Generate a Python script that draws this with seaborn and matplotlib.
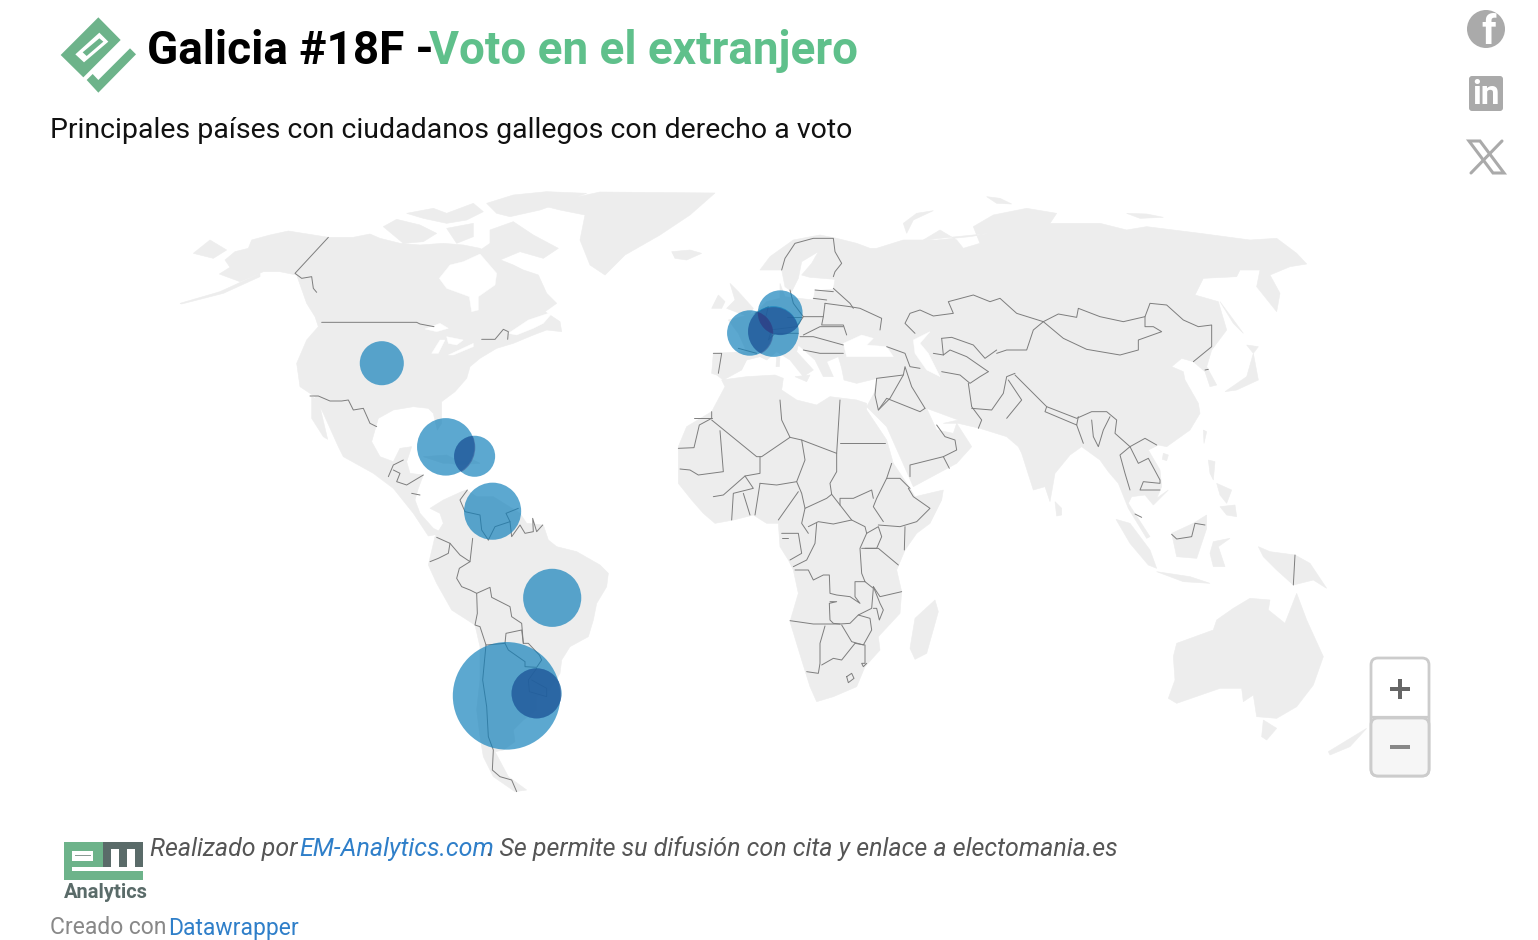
import numpy as np
import pandas as pd
import seaborn as sns
import matplotlib
matplotlib.use("Agg")
import matplotlib.pyplot as plt
from matplotlib.patches import Polygon, Ellipse, Rectangle, FancyBboxPatch, Circle

# ---------- data (map position, voters)
countries = ["Argentina", "Uruguay", "Brasil", "Venezuela", "Cuba", "Rep. Dominicana",
             "Estados Unidos", "Francia", "Suiza", "Alemania"]
map_lon = [-64.6, -57.1, -53.2, -68.1, -79.8, -72.6, -95.8, -3.8, 2.1, 3.8]
map_lat = [-33.1, -32.6, -13.3, 4.2, 17.2, 15.3, 34.1, 40.2, 40.5, 44.3]
voters = [158600, 34400, 46300, 44700, 45300, 23100, 26600, 28300, 35200, 27400]
overlaps = [("Argentina", "Uruguay"), ("Cuba", "Rep. Dominicana"), ("Francia", "Suiza"),
            ("Francia", "Alemania"), ("Suiza", "Alemania")]

title_a = "Galicia #18F - "
title_b = "Voto en el extranjero"
subtitle = "Principales países con ciudadanos gallegos con derecho a voto"
note_a = "Realizado por "
note_b = "EM-Analytics.com"
note_c = ". Se permite su difusión con cita y enlace a electomania.es"
credit_a = "Creado con "
credit_b = "Datawrapper"

# ---------- base map outlines: (origin x, origin y, scale, points)
A, S, E, F, O, P = (180, 180, 3), (380, 480, 3), (670, 220, 3), (670, 400, 3), (900, 190, 3), (1050, 440, 3)
R = (0, 0, 1)

land = [
 [(A, [(118,282),(150,262),(135,240),(165,215),(205,205),(215,180),(270,165),(325,153),(445,172),(520,172),(570,162),(600,175),(660,190),(720,195),(790,190),(850,195),(900,205),(950,235),(1000,255),(1030,270),(1075,285),(1100,340),(1130,370),(1095,395),(1140,425),(1145,455),(1100,450),(1060,465),(1000,490),(950,505),(900,535),(870,560),(860,595),(825,635),(785,665),(785,730),(772,750),(760,700),(745,685),(700,680),(640,690),(595,715),(575,785),(600,830),(640,845),(660,805),(695,800),(680,845),(690,880),(730,885),(715,925),(705,960),(720,1000),(760,1045),(790,1060),(745,1068),(700,1000),(640,925),(580,880),(490,830),(475,800),(430,700),(405,650),(360,620),(350,550),(380,480),(415,440),(405,410),(380,370),(350,285),(300,275),(250,275),(180,305)])],
 [(A, [(395,650),(415,660),(443,778),(430,770),(395,715)])],
 [(A, [(610,140),(650,118),(720,135),(770,160),(730,185),(670,190),(640,165)])],
 [(A, [(920,70),(1000,45),(1100,35),(1220,40),(1150,65),(1080,90),(990,110),(950,100)])],
 [(A, [(680,100),(760,85),(800,100),(880,70),(910,95),(860,120),(800,130),(730,115)])],
 [(A, [(880,225),(930,190),(930,150),(1000,125),(1060,165),(1135,205),(1090,235),(1020,215),(960,240)])],
 [(A, [(800,145),(880,130),(880,170),(830,190)])],
 [(A, [(40,220),(90,180),(140,210),(100,235)])],
 [(A, [(0,370),(120,335),(240,280),(240,290),(130,340),(5,372)])],
 [(R, [(540,205),(600,192),(715,193),(690,215),(660,235),(625,255),(605,275),(590,265),(580,240),(585,215),(560,210)])],
 [(A, [(730,830),(800,825),(850,850),(790,850)])],
 [(A, [(800,845),(880,840),(900,850),(830,855)])],
 [(S, [(190,60),(245,35),(260,30),(290,50),(340,50),(420,100),(440,130),(490,135),(505,180),(530,200),(590,215),(660,255),(685,280),(680,320),(650,370),(640,420),(625,470),(570,500),(545,540),(540,580),(510,630),(470,650),(470,690),(430,720),(400,750),(405,785),(370,810),(345,815),(385,890),(440,930),(405,935),(340,890),(310,830),(300,770),(290,690),(300,600),(300,500),(285,435),(215,390),(170,310),(145,255),(165,170),(190,130),(180,100),(150,85)])],
 [(F, [(155,-60),(230,-70),(315,-75),(340,-65),(335,-30),(380,0),(440,15),(480,-10),(560,0),(590,10),(590,30),(650,120),(670,190),(720,265),(735,290),(820,270),(815,300),(780,370),(740,400),(705,450),(680,510),(695,575),(690,640),(625,710),(630,750),(585,800),(560,860),(490,890),(440,905),(420,860),(395,780),(360,665),(385,580),(370,510),(355,480),(330,440),(325,370),(290,370),(250,345),(190,360),(135,370),(100,340),(65,300),(25,250),(25,140),(50,80),(125,35),(165,-40)])],
 [(F, [(795,600),(805,635),(770,760),(735,778),(720,745),(735,655)])],
 [(E, [(125,460),(130,400),(230,395),(205,340),(175,300),(255,280),(290,245),(330,235),(330,190),(345,230),(430,240),(435,212),(490,208),(495,178),(420,172),(395,165),(425,130),(445,95),(395,125),(385,175),(365,215),(345,200),(335,150),(270,150),(300,110),(370,60),(450,45),(500,55),(560,70),(600,85),(620,85),(700,60),(800,60),(900,50),(960,40)]),
  (O, [(70,150),(120,120),(170,150),(190,175),(240,160),(220,110),(280,75),(380,55),(470,70),(450,100),(600,100),(680,120),(740,110),(900,130),(1050,150),(1130,145),(1190,190),(1220,222),(1170,230),(1110,255),(1140,310),(1130,365),(1070,290),(1080,240),(1020,240),(1010,260),(910,265),(885,315),(955,335),(980,420),(935,480),(920,530),(950,585),(930,590),(915,545),(880,515),(845,505),(815,530),(850,545),(855,570),(895,640),(900,670),(870,720),(800,770),(775,765),(745,780),(780,840),(785,890),(770,925)]),
  (P, [(355,150),(310,195),(285,165),(245,170),(235,190),(300,290),(290,295),(235,205),(205,130),(175,95),(150,60),(95,20),(60,45),(15,100),(0,185),(-15,140)]),
  (O, [(400,900),(365,790),(355,770),(320,740),(240,715),(175,700),(130,700)]),
  (E, [(865,600),(770,565),(800,630),(850,640),(860,610),(905,680),(860,730),(730,800),(650,620),(590,560),(612,520),(622,475),(560,490),(522,480),(515,445),(505,410),(470,425),(490,470),(460,470),(435,420),(385,375),(380,395),(430,450),(400,470),(360,420),(320,395),(290,420),(270,410),(230,420),(215,450),(160,480),(140,465)])],
 [(E, [(180,190),(205,215),(250,265),(235,290),(170,265),(195,240)])],
 [(E, [(125,265),(145,225),(165,245),(155,265)])],
 [(E, [(5,95),(60,90),(95,100),(50,120),(15,115)])],
 [(E, [(375,470),(420,465),(410,485)])],
 [(E, [(320,410),(330,410),(328,440),(318,440)])],
 [(O, [(10,100),(50,70),(100,62),(40,90),(20,130)])],
 [(O, [(260,20),(300,25),(335,42),(290,40)])],
 [(O, [(680,70),(740,72),(790,82),(720,85)])],
 [(O, [(975,605),(1040,560),(1060,490),(1075,570),(1010,600)])],
 [(O, [(1040,465),(1075,470),(1060,490)])],
 [(O, [(960,335),(1030,430),(1000,400)])],
 [(O, [(910,720),(920,725),(912,760)])],
 [(O, [(790,790),(805,795),(800,812),(787,808)])],
 [(P, [(475,60),(495,65),(490,120),(480,100)])],
 [(P, [(510,200),(555,195),(560,230),(530,225)])],
 [(P, [(500,130),(545,150),(530,190),(510,165)])],
 [(P, [(15,185),(35,205),(35,225),(20,228)])],
 [(P, [(198,238),(240,250),(300,330),(320,385),(295,375),(240,310)])],
 [(P, [(320,395),(420,410),(480,430),(400,425)])],
 [(P, [(365,280),(430,250),(470,225),(470,265),(440,355),(380,350)])],
 [(P, [(480,340),(490,305),(540,295),(505,320),(525,380),(490,380)])],
 [(P, [(625,320),(660,335),(735,345),(780,370),(830,445),(790,420),(730,435),(680,390),(640,350)])],
 [(P, [(380,610),(490,570),(500,540),(550,505),(600,475),(660,480),(655,510),(705,550),(740,460),(770,540),(820,650),(790,735),(740,800),(680,835),(620,830),(610,765),(580,785),(575,745),(510,745),(380,790),(355,775),(375,720),(370,650)])],
 [(P, [(640,840),(680,865),(650,900),(635,890)])],
 [(P, [(835,935),(950,865),(900,920),(840,945)])],
]

water = [
 (A, [(778,295),(810,255),(850,245),(900,222),(950,280),(945,315),(895,350),(895,390),(875,395),(868,350),(800,325)]),
 (A, [(735,447),(780,430),(805,445),(770,455)]),
 (A, [(755,520),(780,480),(795,480),(775,520)]),
 (A, [(800,470),(850,480),(830,495),(805,490)]),
 (A, [(805,525),(880,490),(880,500),(820,525)]),
 (A, [(985,460),(1045,420),(1120,395),(1090,430),(1060,445),(1010,465)]),
 (E, [(520,370),(575,345),(610,355),(590,375),(650,380),(670,410),(590,410),(530,410)]),
 (E, [(730,360),(780,335),(750,370),(775,400),(810,470),(770,450),(735,400)]),
]

borders = [
 (A, [(445,172),(345,280),(365,295),(395,290),(400,325),(410,337)]),
 (A, [(425,427),(710,427),(720,432),(762,440)]),
 (A, [(905,478),(945,478),(970,448),(985,455),(983,478)]),
 (A, [(390,648),(415,648),(450,663),(485,663),(505,660),(520,690),(550,685),(570,730),(590,740)]),
 (A, [(670,840),(640,855),(625,890)]),
 (A, [(640,870),(660,880),(650,905),(680,915),(730,885)]),
 (A, [(695,940),(720,945)]),
 (S, [(262,30),(240,60),(255,95),(300,105),(305,150),(325,180)]),
 (S, [(325,180),(345,140),(390,125),(378,100),(415,85)]),
 (S, [(390,125),(395,170),(420,135),(435,160),(460,155),(458,115),(470,155),(488,135)]),
 (S, [(170,172),(210,190),(240,225),(270,245),(278,175)]),
 (S, [(210,190),(205,220),(175,235),(150,245)]),
 (S, [(270,245),(238,265),(230,295),(245,320),(270,330),(290,340),(330,322),(335,352),(390,380),(395,410),(425,430),(430,490)]),
 (S, [(290,340),(292,400),(285,435),(300,440),(318,495)]),
 (S, [(318,495),(308,600),(320,680),(325,770),(340,810),(337,870),(360,890),(395,900),(410,935)]),
 (S, [(318,495),(375,490),(385,510),(435,545),(435,560),(470,562),(485,540),(478,525),(445,490),(430,490)]),
 (S, [(375,490),(378,460),(425,450),(430,490)]),
 (S, [(470,565),(445,600),(448,635),(500,650),(500,625),(455,600)]),
 (F, [(25,145),(72,143),(88,75),(125,55),(125,35)]),
 (F, [(72,55),(125,55)]),
 (F, [(125,60),(260,170),(275,170),(360,112),(395,120),(500,160),(510,0)]),
 (F, [(360,112),(335,60),(330,0)]),
 (F, [(395,120),(405,180),(380,245),(395,280),(405,325),(470,295),(485,283),(510,315),(545,360)]),
 (F, [(500,160),(500,215),(480,250),(485,283)]),
 (F, [(510,130),(645,130)]),
 (F, [(150,92),(160,215),(85,225),(60,210),(30,207)]),
 (F, [(270,170),(270,220),(225,228),(160,285),(130,290)]),
 (F, [(225,228),(250,265),(190,280),(185,360)]),
 (F, [(220,280),(240,345)]),
 (F, [(270,250),(255,345)]),
 (F, [(270,250),(320,255),(380,245)]),
 (F, [(385,275),(325,360)]),
 (F, [(405,325),(395,370),(415,400)]),
 (F, [(415,380),(445,365),(490,372),(545,360),(585,380),(590,400)]),
 (F, [(440,370),(435,430),(410,480),(370,500)]),
 (F, [(590,400),(570,445),(575,520),(585,545),(555,545),(555,590),(570,610),(540,590),(500,585),(480,580),(478,525),(460,525),(430,540),(415,510),(375,510)]),
 (F, [(480,605),(500,605),(478,610),(480,660),(490,670),(510,672),(540,670),(565,645),(605,625),(610,565),(585,545)]),
 (F, [(360,662),(430,672),(510,672)]),
 (F, [(465,678),(450,730),(450,790),(445,820),(410,815)]),
 (F, [(455,795),(490,775),(515,780),(555,730),(585,735),(585,790),(575,790),(580,800),(590,790)]),
 (F, [(515,675),(545,725),(580,735),(605,690),(600,655),(565,645)]),
 (F, [(530,830),(545,820),(552,835),(535,848),(530,830)]),
 (F, [(610,560),(630,590),(695,575)]),
 (F, [(610,560),(630,610),(640,630),(628,660),(620,625),(610,625)]),
 (F, [(585,445),(625,445),(685,495)]),
 (F, [(590,400),(625,380),(635,410),(620,445),(575,445)]),
 (F, [(705,380),(703,450)]),
 (F, [(625,375),(690,380),(740,365),(780,325),(730,290),(715,265)]),
 (F, [(665,190),(650,235),(620,295),(610,320),(640,365)]),
 (F, [(650,235),(690,235),(720,265)]),
 (F, [(510,315),(510,295),(550,295),(605,270),(610,295)]),
 (F, [(335,400),(385,400),(395,460),(360,480)]),
 (F, [(335,415),(355,415)]),
 (E, [(335,150),(345,115),(375,70),(430,55),(490,55),(495,95),(515,130),(495,155),(490,170)]),
 (E, [(490,205),(540,250),(550,265)]),
 (E, [(465,250),(540,260),(570,265),(635,295),(630,330)]),
 (E, [(465,250),(460,290),(400,290),(370,250),(360,210)]),
 (E, [(460,290),(455,315),(520,315),(530,345)]),
 (E, [(435,210),(490,215)]),
 (E, [(430,235),(470,240)]),
 (E, [(400,345),(450,320),(520,320)]),
 (E, [(390,350),(430,350),(520,375)]),
 (E, [(400,390),(450,400),(520,400)]),
 (E, [(255,280),(295,260),(285,300),(305,330),(295,360),(315,340),(385,340)]),
 (E, [(300,330),(380,320),(400,290)]),
 (E, [(350,290),(395,290)]),
 (E, [(205,385),(260,400)]),
 (E, [(130,400),(155,400),(145,460)]),
 (E, [(650,380),(705,400),(720,440),(750,445)]),
 (E, [(620,475),(700,465),(705,440),(725,500),(765,565)]),
 (E, [(620,475),(615,525),(625,570),(660,535),(700,465)]),
 (E, [(625,570),(650,535),(750,575),(765,565)]),
 (E, [(800,615),(825,650),(855,660),(860,690),(820,710),(720,735),(720,770)]),
 (E, [(820,710),(838,745)]),
 (O, [(45,430),(15,400),(30,370),(60,360),(100,378),(160,370),(145,335),(220,315),(270,335),(300,325),(350,370),(430,395),(400,420),(380,480),(320,480),(290,490)]),
 (O, [(430,395),(475,372),(530,382),(535,355),(600,380),(670,395),(735,380),(750,340),(800,345),(850,390),(895,410),(935,405),(935,470),(880,515)]),
 (O, [(430,395),(490,445),(560,478),(660,495),(715,480),(715,450),(785,425),(760,410),(735,410),(735,380)]),
 (O, [(125,445),(130,495),(150,480),(200,500),(265,545)]),
 (O, [(125,445),(155,442),(220,465),(255,505),(290,480)]),
 (O, [(100,490),(130,495)]),
 (O, [(125,545),(180,555),(210,580),(240,560),(265,545)]),
 (O, [(205,580),(215,650),(245,690),(235,715)]),
 (O, [(215,655),(275,660),(310,610),(320,560),(345,550)]),
 (O, [(320,685),(365,630),(345,600),(325,570)]),
 (O, [(345,555),(410,620),(440,650),(530,685),(575,665),(620,665),(650,690),(645,730),(690,770),(735,745),(770,765)]),
 (O, [(440,650),(435,665),(530,705),(535,680)]),
 (O, [(530,705),(550,760)]),
 (O, [(575,690),(580,740),(595,770),(610,720),(630,680)]),
 (O, [(690,770),(660,795),(675,850),(690,900)]),
 (O, [(690,770),(715,820),(745,805),(780,870),(780,880),(730,875),(720,900),(780,900)]),
 (O, [(915,540),(925,538)]),
 (P, [(255,222),(275,232)]),
 (P, [(365,283),(380,297),(425,290),(435,250),(465,255)]),
 (P, [(735,345),(730,435)]),
]

# ---------- figure
sns.set_theme(style="white")
plt.rcParams["font.family"] = ["Roboto", "DejaVu Sans"]
W, H = 1538, 940
fig = plt.figure(figsize=(W / 100, H / 100), dpi=100, facecolor="white")

# Map axes: linear lon/lat-like scale
PX_LON, PX_LAT = 4.0, 4.95
LON0_PX, LAT0_PY = 765, 532
ax = fig.add_axes([0, 0, 1, 1])
ax.set_xlim((0 - LON0_PX) / PX_LON, (W - LON0_PX) / PX_LON)
ax.set_ylim((LAT0_PY - H) / PX_LAT, (LAT0_PY - 0) / PX_LAT)
ax.axis("off")


def to_map(seg):
    (ox, oy, k), pts = seg
    a = np.array(pts, dtype=float)
    px = ox + a[:, 0] / k
    py = oy + a[:, 1] / k
    return np.column_stack([(px - LON0_PX) / PX_LON, (LAT0_PY - py) / PX_LAT])


LAND = "#ededed"
for shape in land:
    xy = np.vstack([to_map(s) for s in shape])
    ax.add_patch(Polygon(xy, closed=True, fc=LAND, ec=LAND, lw=0.4, zorder=1))
for seg in water:
    ax.add_patch(Polygon(to_map(seg), closed=True, fc="white", ec="white", lw=0.3, zorder=2))
for seg in borders:
    xy = to_map(seg)
    ax.plot(xy[:, 0], xy[:, 1], color="#7d7d7d", lw=0.7, zorder=3, solid_joinstyle="round")

# Bubbles: area proportional to voters
df = pd.DataFrame({"pais": countries, "lon": map_lon, "lat": map_lat, "votantes": voters})
R_MAX_PX = 53.8
vmax = df["votantes"].max()
s_max = (2 * R_MAX_PX * 0.72) ** 2
BUBBLE = (15 / 255, 127 / 255, 186 / 255)
sns.scatterplot(data=df, x="lon", y="lat", size="votantes", size_norm=(0, vmax), sizes=(0, s_max),
                color=BUBBLE, alpha=0.68, linewidth=0, legend=False, zorder=5, ax=ax)
ax.set_xlabel("")
ax.set_ylabel("")

# Darkening where bubbles overlap
by = df.set_index("pais")
for a, b in overlaps:
    ra = by.loc[a]
    rb = by.loc[b]
    rad_b = R_MAX_PX * np.sqrt(rb["votantes"] / vmax)
    clip = Ellipse((rb["lon"], rb["lat"]), 2 * rad_b / PX_LON, 2 * rad_b / PX_LAT, transform=ax.transData)
    coll = ax.scatter([ra["lon"]], [ra["lat"]], s=s_max * ra["votantes"] / vmax, color=(50 / 255, 60 / 255, 130 / 255),
                      alpha=0.45, linewidth=0, zorder=6)
    coll.set_clip_path(clip)

# Page furniture in pixel coordinates
ov = fig.add_axes([0, 0, 1, 1], facecolor="none")
ov.set_xlim(0, W)
ov.set_ylim(H, 0)
ov.axis("off")

GREEN = "#6db38a"
T = (40, 0, 3)
def px_pts(origin, pts):
    ox, oy, k = origin
    return [(ox + x / k, oy + y / k) for x, y in pts]

ov.add_patch(Polygon(px_pts(T, [(175,52),(242,120),(130,232),(62,165)]), fc=GREEN, ec="none"))
ov.add_patch(Polygon(px_pts(T, [(178,98),(205,125),(132,187),(106,163)]), fc="white", ec="none"))
ov.add_patch(Polygon(px_pts(T, [(178,115),(190,125),(140,168),(128,157)]), fc=GREEN, ec="none"))
ov.add_patch(Polygon(px_pts(T, [(270,145),(288,163),(175,278),(140,240),(158,222),(175,240)]), fc=GREEN, ec="none"))

ov.text(147, 51, title_a, fontsize=33, fontweight="bold", color="#000000", va="center", ha="left")
ov.text(429, 51, title_b, fontsize=33, fontweight="bold", color="#5fc08b", va="center", ha="left")
ov.text(50, 131, subtitle, fontsize=20.5, color="#111111", va="center", ha="left")

# em-analytics logo
L = (40, 830, 3)
def rect(x, y, w, h, c):
    (px, py) = px_pts(L, [(x, y)])[0]
    ov.add_patch(Rectangle((px, py), w / 3, h / 3, fc=c, ec="none"))

rect(72, 35, 118, 115, GREEN)
rect(96, 62, 64, 32, "white")
rect(106, 76, 46, 3, "#8a9a94")
rect(96, 112, 212, 12, "white")
rect(190, 35, 118, 77, "#5a6b69")
rect(190, 124, 118, 26, GREEN)
rect(212, 58, 26, 54, "white")
rect(262, 58, 24, 54, "white")
ov.text(64, 892, "Analytics", fontsize=14.5, fontweight="bold", color="#5a6b69", va="center", ha="left")

FOOT = "#555555"
LINK = "#2f7fc9"
ov.text(150, 849, note_a, fontsize=18, style="italic", color=FOOT, va="center", ha="left")
ov.text(299, 849, note_b, fontsize=18, style="italic", color=LINK, va="center", ha="left")
ov.text(487, 849, note_c, fontsize=18, style="italic", color=FOOT, va="center", ha="left")
ov.text(50, 928, credit_a, fontsize=16.5, color="#888888", va="center", ha="left")
ov.text(168, 928, credit_b, fontsize=16.5, color=LINK, va="center", ha="left")

# Share icons
ICON = "#aaaaaa"
ov.add_patch(Circle((1486, 29), 19, fc=ICON, ec="none"))
ov.text(1489, 33, "f", fontsize=29, fontweight="bold", color="white", va="center", ha="center")
ov.add_patch(FancyBboxPatch((1471, 78), 30, 31, boxstyle="round,pad=2,rounding_size=3", fc=ICON, ec="none"))
ov.text(1486, 95, "in", fontsize=24, fontweight="bold", color="white", va="center", ha="center")
ov.add_patch(Polygon([(1469,141),(1480,141),(1504,173),(1493,173)], fc="none", ec=ICON, lw=2.2))
ov.plot([1502, 1471], [141, 173], color=ICON, lw=2.2)

# Zoom control
ov.add_patch(FancyBboxPatch((1375, 662), 50, 110, boxstyle="round,pad=4,rounding_size=7", fc="white", ec="#cccccc", lw=2))
ov.add_patch(Rectangle((1372, 717), 56, 54, fc="#f6f6f6", ec="none"))
ov.add_patch(FancyBboxPatch((1375, 722), 50, 50, boxstyle="round,pad=4,rounding_size=7", fc="#f6f6f6", ec="#cccccc", lw=2))
ov.plot([1372, 1428], [717, 717], color="#cccccc", lw=1.6)
ov.add_patch(Rectangle((1390, 687), 20, 4, fc="#666666", ec="none"))
ov.add_patch(Rectangle((1398, 679), 4, 20, fc="#666666", ec="none"))
ov.add_patch(Rectangle((1390, 745), 20, 4, fc="#888888", ec="none"))

fig.savefig("out.png", dpi=100, facecolor="white")
